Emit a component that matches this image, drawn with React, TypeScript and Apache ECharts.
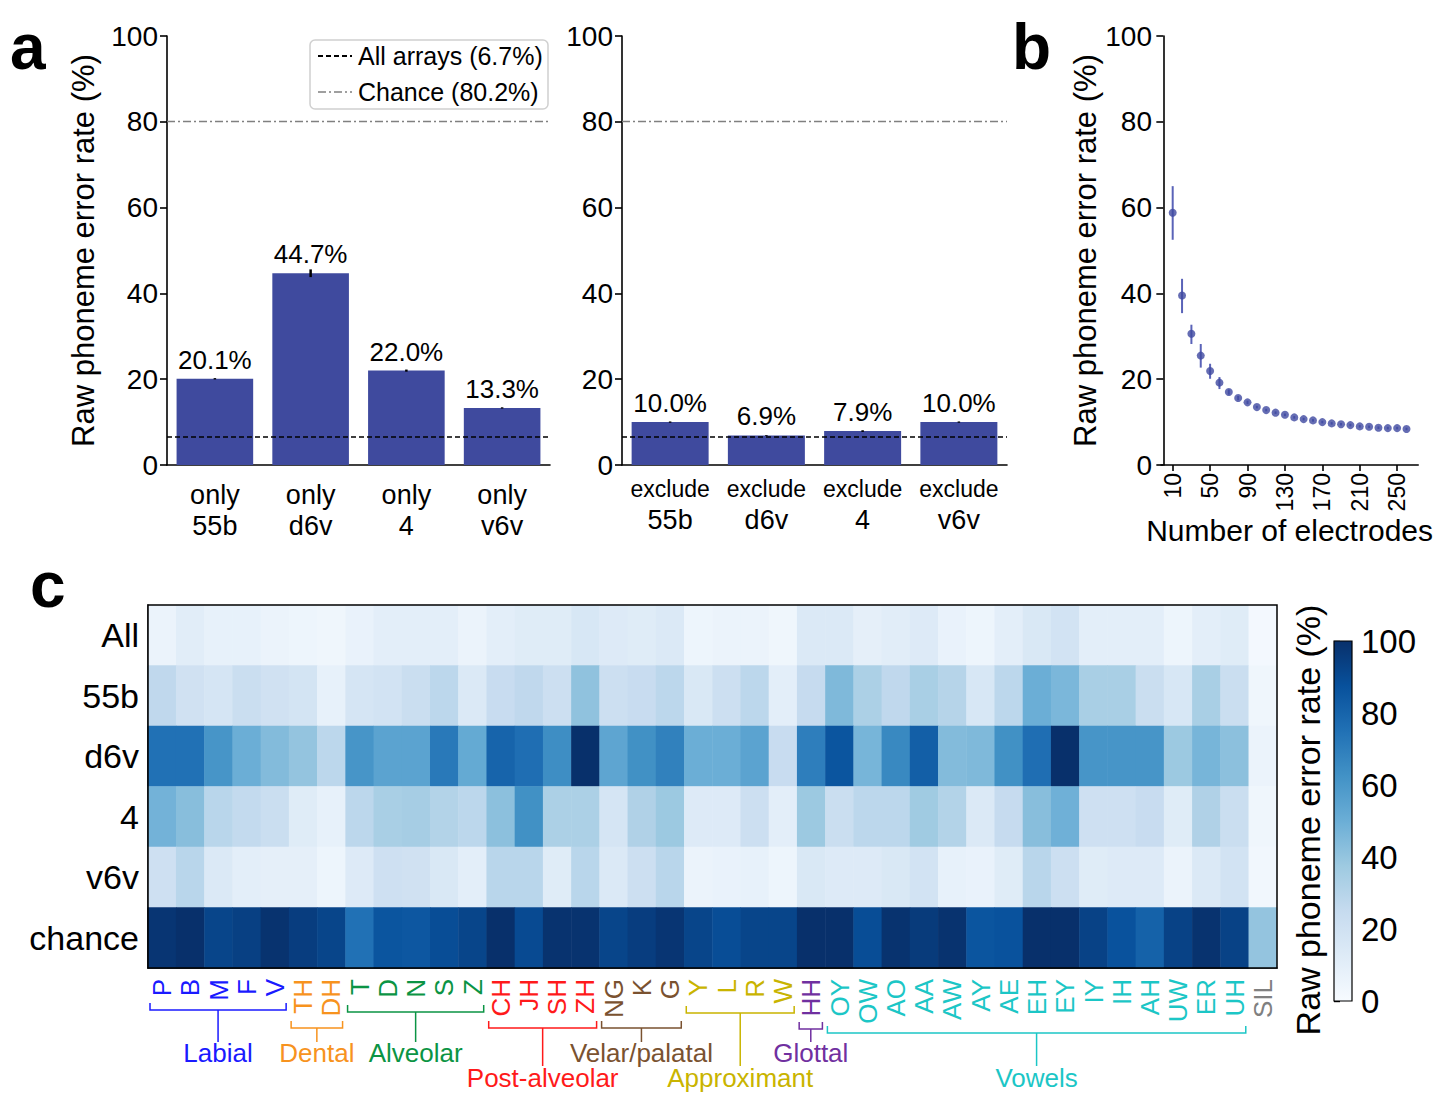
import React, { useEffect, useRef } from 'react';
import * as echarts from 'echarts';

// ---------- Panel a ----------
const arrayNames = ['55b', 'd6v', '4', 'v6v'];
const onlyValues = [20.1, 44.7, 22.0, 13.3];
const onlyErr = [0.15, 0.9, 0.25, 0.15];
const excludeValues = [10.0, 6.9, 7.9, 10.0];
const excludeErr = [0.15, 0.1, 0.2, 0.15];
const allArraysRate = 6.7;
const chanceRate = 80.2;

// ---------- Panel b ----------
const electrodeCounts = [10, 20, 30, 40, 50, 60, 70, 80, 90, 100, 110, 120, 130, 140, 150, 160, 170, 180, 190, 200, 210, 220, 230, 240, 250, 260];
const electrodeRates = [58.8, 39.5, 30.6, 25.5, 21.9, 19.2, 17.0, 15.6, 14.6, 13.5, 12.8, 12.2, 11.7, 11.1, 10.7, 10.4, 10.0, 9.7, 9.5, 9.3, 9.0, 8.9, 8.7, 8.6, 8.6, 8.4];
const electrodeLow = [52.5, 35.4, 28.2, 22.7, 20.1, 17.7, 16.4, 15.1, 14.2, 13.2, 12.5, 11.9, 11.4, 10.8, 10.4, 10.1, 9.7, 9.4, 9.2, 9.0, 8.7, 8.6, 8.4, 8.3, 8.3, 8.1];
const electrodeHigh = [65.0, 43.4, 32.7, 28.2, 23.6, 20.5, 17.6, 16.1, 15.0, 13.8, 13.1, 12.5, 12.0, 11.4, 11.0, 10.7, 10.3, 10.0, 9.8, 9.6, 9.3, 9.2, 9.0, 8.9, 8.9, 8.7];
const electrodeTicks = [10, 50, 90, 130, 170, 210, 250];

// ---------- Panel c ----------
const phonemes = ['P', 'B', 'M', 'F', 'V', 'TH', 'DH', 'T', 'D', 'N', 'S', 'Z', 'CH', 'JH', 'SH', 'ZH', 'NG', 'K', 'G', 'Y', 'L', 'R', 'W', 'HH', 'OY', 'OW', 'AO', 'AA', 'AW', 'AY', 'AE', 'EH', 'EY', 'IY', 'IH', 'AH', 'UW', 'ER', 'UH', 'SIL'];
const heatRows = ['All', '55b', 'd6v', '4', 'v6v', 'chance'];
const rateAll = [6, 11, 8, 8, 6, 5, 4, 7, 10, 10, 10, 6, 10, 12, 12, 16, 13, 12, 14, 5, 6, 6, 4, 14, 14, 9, 11, 13, 7, 5, 10, 15, 19, 10, 10, 10, 5, 10, 12, 2];
const rate55b = [27, 20, 17, 23, 20, 18, 8, 17, 19, 23, 28, 14, 24, 27, 22, 41, 22, 24, 28, 15, 22, 28, 10, 25, 45, 33, 27, 34, 30, 16, 28, 50, 46, 34, 34, 23, 16, 34, 23, 4];
const rateD6v = [75, 75, 61, 50, 44, 40, 28, 61, 55, 55, 72, 52, 80, 76, 64, 100, 54, 63, 69, 50, 50, 55, 24, 70, 86, 47, 66, 82, 44, 45, 63, 76, 100, 61, 61, 61, 38, 47, 42, 6];
const rate4 = [48, 43, 29, 26, 23, 12, 8, 28, 34, 35, 31, 28, 42, 63, 33, 33, 17, 32, 38, 13, 13, 22, 10, 38, 23, 28, 28, 37, 31, 14, 25, 43, 49, 21, 21, 24, 12, 32, 23, 4];
const rateV6v = [21, 29, 14, 10, 9, 9, 5, 13, 21, 20, 15, 10, 29, 29, 12, 29, 14, 22, 29, 6, 7, 8, 5, 15, 13, 13, 15, 19, 8, 7, 12, 29, 22, 12, 13, 13, 6, 14, 19, 3];
const rateChance = [98, 100, 92, 94, 99, 95, 92, 75, 86, 85, 89, 92, 100, 90, 99, 99, 92, 95, 98, 92, 89, 92, 92, 100, 100, 89, 99, 96, 99, 86, 87, 100, 100, 93, 87, 81, 93, 99, 93, 40];
const heatValues = [rateAll, rate55b, rateD6v, rate4, rateV6v, rateChance];

const groupNames = ['Labial', 'Dental', 'Alveolar', 'Post-alveolar', 'Velar/palatal', 'Approximant', 'Glottal', 'Vowels'];
const groupSizes = [5, 2, 5, 4, 3, 4, 1, 15];
const groupColors = ['#1a1aff', '#f7931e', '#0b9444', '#ff1a1a', '#7a5230', '#c9b400', '#7030a0', '#1cc6c6'];
const silColor = '#808080';

const blues = ['#f7fbff', '#deebf7', '#c6dbef', '#9ecae1', '#6baed6', '#4292c6', '#2171b5', '#08519c', '#08306b'];

const FONT = 'Liberation Sans, Arial, Helvetica, sans-serif';
const BAR_COLOR = '#3f4a9e';

export default function App() {
  const ref = useRef<HTMLDivElement>(null);

  useEffect(() => {
    if (!ref.current) return;
    const chart = echarts.init(ref.current, undefined, { renderer: 'svg' });

    // layout
    const hm = { left: 148, top: 605, width: 1129, height: 363 };
    const cb = { left: 1334, top: 641, width: 18, height: 360 };
    const cellW = hm.width / phonemes.length;

    // phoneme colors
    const phonemeColors: string[] = [];
    groupSizes.forEach((n, g) => {
      for (let i = 0; i < n; i++) phonemeColors.push(groupColors[g]);
    });
    while (phonemeColors.length < phonemes.length) phonemeColors.push(silColor);

    const heatData: number[][] = [];
    heatValues.forEach((row, r) => row.forEach((v, c) => heatData.push([c, r, v])));

    const axisLineStyle = { color: '#000', width: 1.6 };
    const yAxisCommon = {
      type: 'value',
      min: 0,
      max: 100,
      interval: 20,
      axisLine: { show: true, lineStyle: axisLineStyle },
      axisTick: { show: true, length: 7, lineStyle: axisLineStyle },
      axisLabel: { color: '#000', fontSize: 28, margin: 9, fontFamily: FONT },
      splitLine: { show: false },
    };

    const refLines = {
      silent: true,
      symbol: ['none', 'none'],
      z: 5,
      label: { show: false },
      data: [
        { yAxis: allArraysRate, lineStyle: { color: '#000', type: [5, 3], width: 1.6 } },
        { yAxis: chanceRate, lineStyle: { color: '#808080', type: [8, 3, 2, 3], width: 1.4 } },
      ],
    };

    const errBar = (color: string, width: number) => (params: any, api: any) => {
      const x = api.value(0);
      const p1 = api.coord([x, api.value(1)]);
      const p2 = api.coord([x, api.value(2)]);
      return {
        type: 'line',
        shape: { x1: p1[0], y1: p1[1], x2: p2[0], y2: p2[1] },
        style: { stroke: color, lineWidth: width },
      };
    };

    const barLabel = {
      show: true,
      position: 'top',
      distance: 6,
      color: '#000',
      fontSize: 26,
      fontFamily: FONT,
      formatter: (p: any) => `${Number(p.value).toFixed(1)}%`,
    };

    // bracket layout per group
    const bracketY = [1010, 1028, 1012, 1028, 1028, 1013, 1029, 1033];
    const labelRow = [0, 0, 0, 1, 0, 1, 0, 1];
    const stemBottom = [1042, 1066];
    const labelY = [1053, 1078];

    const graphics: any[] = [];
    let start = 0;
    groupSizes.forEach((n, g) => {
      const x1 = hm.left + start * cellW + 2;
      const x2 = hm.left + (start + n) * cellW - 3;
      const xm = (x1 + x2) / 2;
      const y = bracketY[g];
      const col = groupColors[g];
      graphics.push({
        type: 'polyline',
        shape: { points: [[x1, y - 7], [x1, y], [x2, y], [x2, y - 7]] },
        style: { stroke: col, lineWidth: 1.5, fill: null },
      });
      graphics.push({
        type: 'line',
        shape: { x1: xm, y1: y, x2: xm, y2: stemBottom[labelRow[g]] },
        style: { stroke: col, lineWidth: 1.5 },
      });
      graphics.push({
        type: 'text',
        x: xm,
        y: labelY[labelRow[g]],
        style: { text: groupNames[g], fill: col, font: `26px ${FONT}`, align: 'center', verticalAlign: 'middle' },
      });
      start += n;
    });

    // panel letters
    graphics.push({ type: 'text', x: 10, y: 47, style: { text: 'a', fill: '#000', font: `bold 64px ${FONT}`, verticalAlign: 'middle' } });
    graphics.push({ type: 'text', x: 1012, y: 47, style: { text: 'b', fill: '#000', font: `bold 64px ${FONT}`, verticalAlign: 'middle' } });
    graphics.push({ type: 'text', x: 30, y: 585, style: { text: 'c', fill: '#000', font: `bold 64px ${FONT}`, verticalAlign: 'middle' } });

    // legend
    graphics.push({
      type: 'rect',
      shape: { x: 310, y: 40, width: 238, height: 69, r: 5 },
      style: { fill: 'rgba(255,255,255,0.85)', stroke: '#d0d0d0', lineWidth: 1.5 },
      z: 10,
    });
    graphics.push({ type: 'line', z: 11, shape: { x1: 318, y1: 56, x2: 352, y2: 56 }, style: { stroke: '#000', lineWidth: 1.8, lineDash: [5, 3] } });
    graphics.push({ type: 'line', z: 11, shape: { x1: 318, y1: 92, x2: 352, y2: 92 }, style: { stroke: '#808080', lineWidth: 1.6, lineDash: [8, 3, 2, 3] } });
    graphics.push({ type: 'text', z: 11, x: 358, y: 56, style: { text: `All arrays (${allArraysRate}%)`, fill: '#000', font: `25px ${FONT}`, verticalAlign: 'middle' } });
    graphics.push({ type: 'text', z: 11, x: 358, y: 92, style: { text: `Chance (${chanceRate}%)`, fill: '#000', font: `25px ${FONT}`, verticalAlign: 'middle' } });

    // heatmap frame
    graphics.push({
      type: 'rect',
      z: 20,
      shape: { x: hm.left, y: hm.top, width: hm.width, height: hm.height },
      style: { fill: null, stroke: '#000', lineWidth: 1.5 },
    });

    // colorbar
    graphics.push({
      type: 'rect',
      z: 20,
      shape: { x: cb.left, y: cb.top, width: cb.width, height: cb.height },
      style: {
        fill: new echarts.graphic.LinearGradient(0, 0, 0, 1,
          blues.slice().reverse().map((c, i) => ({ offset: i / (blues.length - 1), color: c }))),
        stroke: '#000',
        lineWidth: 1.2,
      },
    });
    graphics.push({
      type: 'text',
      x: 1308,
      y: 820,
      rotation: Math.PI / 2,
      style: { text: 'Raw phoneme error rate (%)', fill: '#000', font: `34px ${FONT}`, align: 'center', verticalAlign: 'middle' },
    });

    const option: any = {
      animation: false,
      backgroundColor: '#fff',
      textStyle: { fontFamily: FONT },
      grid: [
        { left: 167, top: 36, width: 383, height: 429 },
        { left: 622, top: 36, width: 385, height: 429 },
        { left: 1161, top: 36, width: 259, height: 429 },
        { left: hm.left, top: hm.top, width: hm.width, height: hm.height },
        { left: cb.left, top: cb.top, width: cb.width, height: cb.height },
      ],
      xAxis: [
        {
          type: 'category', gridIndex: 0, data: arrayNames,
          axisLine: { lineStyle: axisLineStyle },
          axisTick: { alignWithLabel: true, length: 8, lineStyle: axisLineStyle },
          axisLabel: { color: '#000', fontSize: 27, lineHeight: 31, margin: 14, formatter: (v: string) => `only\n${v}` },
        },
        {
          type: 'category', gridIndex: 1, data: arrayNames,
          axisLine: { lineStyle: axisLineStyle },
          axisTick: { alignWithLabel: true, length: 8, lineStyle: axisLineStyle },
          axisLabel: {
            color: '#000', margin: 9,
            formatter: (v: string) => `{a|exclude}\n{b|${v}}`,
            rich: { a: { fontSize: 23, lineHeight: 30, color: '#000' }, b: { fontSize: 27, lineHeight: 32, color: '#000' } },
          },
        },
        {
          type: 'value', gridIndex: 2, min: -2.5, max: 272.5,
          axisLine: { lineStyle: axisLineStyle },
          axisTick: { length: 6, lineStyle: axisLineStyle, customValues: electrodeTicks },
          axisLabel: { color: '#000', fontSize: 23, rotate: 90, margin: 8, customValues: electrodeTicks },
          splitLine: { show: false },
          name: 'Number of electrodes', nameLocation: 'middle', nameGap: 50,
          nameTextStyle: { color: '#000', fontSize: 30 },
        },
        {
          type: 'category', gridIndex: 3, data: phonemes,
          axisLine: { lineStyle: axisLineStyle },
          axisTick: { alignWithLabel: true, length: 6, lineStyle: axisLineStyle },
          axisLabel: { interval: 0, rotate: 90, fontSize: 26, margin: 11, color: (v: any, i: number) => phonemeColors[i] },
        },
        { type: 'value', gridIndex: 4, show: false, min: 0, max: 1 },
      ],
      yAxis: [
        { ...yAxisCommon, gridIndex: 0, name: 'Raw phoneme error rate (%)', nameLocation: 'middle', nameGap: 68, nameTextStyle: { color: '#000', fontSize: 31 } },
        { ...yAxisCommon, gridIndex: 1 },
        { ...yAxisCommon, gridIndex: 2, name: 'Raw phoneme error rate (%)', nameLocation: 'middle', nameGap: 54, nameTextStyle: { color: '#000', fontSize: 31 } },
        {
          type: 'category', gridIndex: 3, data: heatRows, inverse: true,
          axisLine: { lineStyle: axisLineStyle },
          axisTick: { alignWithLabel: true, length: 6, lineStyle: axisLineStyle },
          axisLabel: { color: '#000', fontSize: 34, margin: 9 },
        },
        {
          type: 'value', gridIndex: 4, min: 0, max: 100, interval: 20, position: 'right',
          axisLine: { show: false },
          axisTick: { show: true, length: 6, lineStyle: { color: '#000', width: 1.4 } },
          axisLabel: { color: '#000', fontSize: 33, margin: 9 },
          splitLine: { show: false },
        },
      ],
      visualMap: {
        show: false, type: 'continuous', min: 0, max: 100, seriesIndex: 6, dimension: 2,
        inRange: { color: blues },
      },
      series: [
        {
          type: 'bar', xAxisIndex: 0, yAxisIndex: 0, data: onlyValues, barWidth: '80%',
          itemStyle: { color: BAR_COLOR }, label: barLabel, markLine: refLines,
        },
        {
          type: 'custom', xAxisIndex: 0, yAxisIndex: 0, z: 4,
          renderItem: errBar('#000', 2.5),
          data: onlyValues.map((v, i) => [i, v - onlyErr[i], v + onlyErr[i]]),
        },
        {
          type: 'bar', xAxisIndex: 1, yAxisIndex: 1, data: excludeValues, barWidth: '80%',
          itemStyle: { color: BAR_COLOR }, label: barLabel, markLine: refLines,
        },
        {
          type: 'custom', xAxisIndex: 1, yAxisIndex: 1, z: 4,
          renderItem: errBar('#000', 2.5),
          data: excludeValues.map((v, i) => [i, v - excludeErr[i], v + excludeErr[i]]),
        },
        {
          type: 'custom', xAxisIndex: 2, yAxisIndex: 2, z: 3,
          renderItem: errBar('#5a63b8', 2),
          data: electrodeCounts.map((n, i) => [n, electrodeLow[i], electrodeHigh[i]]),
        },
        {
          type: 'scatter', xAxisIndex: 2, yAxisIndex: 2, z: 4, symbolSize: 8,
          itemStyle: { color: '#3f48a0' },
          data: electrodeCounts.map((n, i) => [n, electrodeRates[i]]),
        },
        {
          type: 'heatmap', xAxisIndex: 3, yAxisIndex: 3, data: heatData,
          emphasis: { disabled: true },
        },
        { type: 'scatter', xAxisIndex: 4, yAxisIndex: 4, data: [] },
      ],
      graphic: graphics,
    };

    chart.setOption(option);
    return () => chart.dispose();
  }, []);

  return <div ref={ref} style={{ position: 'absolute', left: 0, top: 0, width: 1435, height: 1093 }} />;
}
